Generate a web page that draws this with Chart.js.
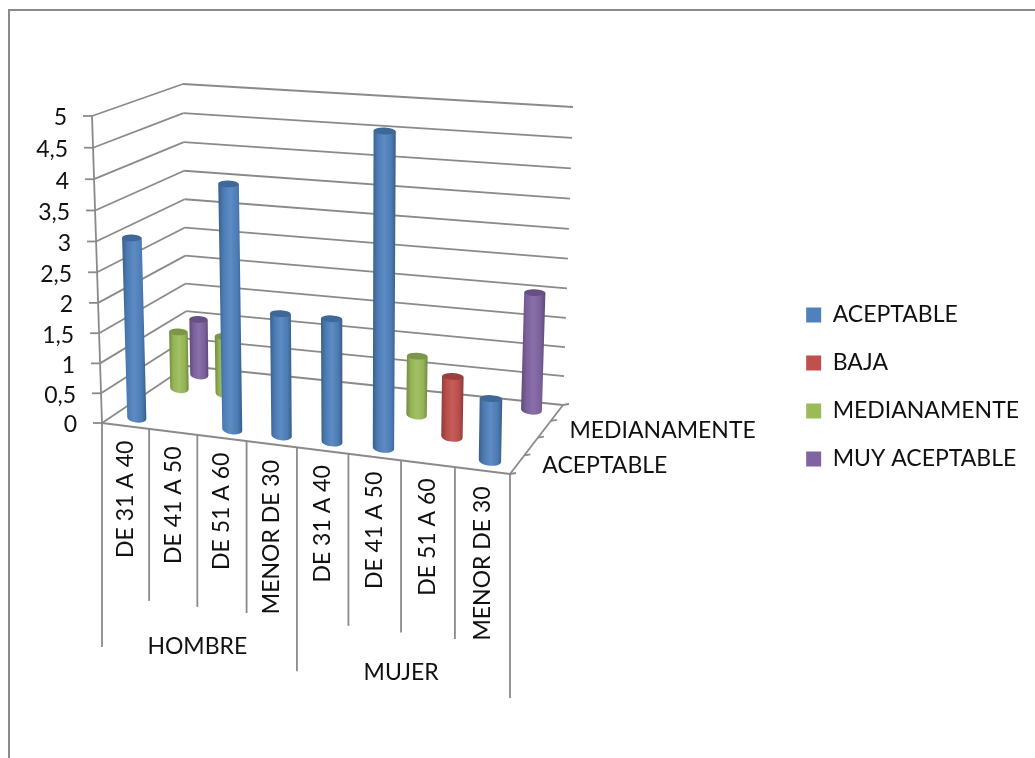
<!DOCTYPE html>
<html>
<head>
<meta charset="utf-8">
<title>Cilindros 3D</title>
<style>
  html, body { margin: 0; padding: 0; background: #fff; overflow: hidden; }
  canvas { display: block; }
</style>
<script src="https://cdn.jsdelivr.net/npm/chart.js@4/dist/chart.umd.js"></script>
</head>
<body>
<canvas id="chart" width="1035" height="758"></canvas>
<script>
const categories = ['DE 31 A 40', 'DE 41 A 50', 'DE 51 A 60', 'MENOR DE 30', 'DE 31 A 40', 'DE 41 A 50', 'DE 51 A 60', 'MENOR DE 30'];
const groups = ['HOMBRE', 'MUJER'];
const groupSize = 4;

const seriesNames = ['ACEPTABLE', 'BAJA', 'MEDIANAMENTE', 'MUY ACEPTABLE'];
const aceptable = [3, null, 4, 2, 2, 5, null, 1];
const baja = [null, null, null, null, null, null, 1, null];
const medianamente = [1, 1, null, null, null, 1, null, null];
const muyAceptable = [1, null, null, null, null, null, null, 2];
const seriesColors = ['#4f81bd', '#c0504d', '#9bbb59', '#8064a2'];

const FONT = 'Lato, sans-serif';
const FONT_SIZE = 23;
const LINE = '#8a8a8a';

// corners of the 3D box on screen: floor and the plane at the axis maximum
const floorCorners = [[102, 423], [510, 474], [563, 405], [187, 366]];
const topCorners = [[92, 116], [516, 146], [573, 107], [183, 84]];
const HEIGHT_BEND = 0.037; // the upper gridlines sit a little closer together at the bottom
const WIDTH_BEND = 0.035; // evens out the category spacing along the front edge

function makeHomography(q) {
  const [[x0, y0], [x1, y1], [x2, y2], [x3, y3]] = q;
  const dx1 = x1 - x2, dx2 = x3 - x2, sx = x0 - x1 + x2 - x3;
  const dy1 = y1 - y2, dy2 = y3 - y2, sy = y0 - y1 + y2 - y3;
  const den = dx1 * dy2 - dx2 * dy1;
  const g = (sx * dy2 - dx2 * sy) / den;
  const h = (dx1 * sy - sx * dy1) / den;
  const a = x1 - x0 + g * x1, b = x3 - x0 + h * x3;
  const d = y1 - y0 + g * y1, e = y3 - y0 + h * y3;
  return (u, v) => {
    const w = g * u + h * v + 1;
    return [(a * u + b * v + x0) / w, (d * u + e * v + y0) / w];
  };
}

const floorPlane = makeHomography(floorCorners);
const topPlane = makeHomography(topCorners);

// u along the categories, v into the depth, t is the fraction of the value axis
function project(u, v, t) {
  const k = t / (1 + HEIGHT_BEND * (1 - t));
  const s = u + WIDTH_BEND * u * (1 - u);
  const a = floorPlane(s, v);
  const b = topPlane(s, v);
  return [a[0] + (b[0] - a[0]) * k, a[1] + (b[1] - a[1]) * k];
}

function shade(hex, f) {
  const n = parseInt(hex.slice(1), 16);
  const c = [n >> 16, (n >> 8) & 255, n & 255].map(p => {
    const o = f <= 1 ? p * f : p + (255 - p) * (f - 1);
    return Math.round(o);
  });
  return `rgb(${c[0]},${c[1]},${c[2]})`;
}

function drawCylinder(ctx, u, v, t, halfU, color) {
  const bottom = project(u, v, 0);
  const top = project(u, v, t);
  const bl = project(u - halfU, v, 0), br = project(u + halfU, v, 0);
  const tl = project(u - halfU, v, t), tr = project(u + halfU, v, t);
  const rxB = Math.hypot(br[0] - bl[0], br[1] - bl[1]) / 2;
  const rxT = Math.hypot(tr[0] - tl[0], tr[1] - tl[1]) / 2;
  const rotB = Math.atan2(br[1] - bl[1], br[0] - bl[0]);
  const rotT = Math.atan2(tr[1] - tl[1], tr[0] - tl[0]) * 0.5;
  const ryB = 4.5, ryT = 3.4;

  const grad = ctx.createLinearGradient(Math.min(bl[0], tl[0]), 0, Math.max(br[0], tr[0]), 0);
  grad.addColorStop(0, shade(color, 0.74));
  grad.addColorStop(0.22, shade(color, 0.96));
  grad.addColorStop(0.5, shade(color, 1.08));
  grad.addColorStop(0.8, shade(color, 0.96));
  grad.addColorStop(1, shade(color, 0.72));

  ctx.beginPath();
  ctx.moveTo(top[0] - rxT * Math.cos(rotT), top[1] - rxT * Math.sin(rotT));
  ctx.lineTo(bottom[0] - rxB * Math.cos(rotB), bottom[1] - rxB * Math.sin(rotB));
  ctx.ellipse(bottom[0], bottom[1], rxB, ryB, rotB, Math.PI, 0, true);
  ctx.lineTo(top[0] + rxT * Math.cos(rotT), top[1] + rxT * Math.sin(rotT));
  ctx.closePath();
  ctx.fillStyle = grad;
  ctx.fill();

  ctx.beginPath();
  ctx.ellipse(top[0], top[1], rxT, ryT, rotT, 0, Math.PI * 2);
  ctx.fillStyle = shade(color, 0.8);
  ctx.fill();
}

// bar controller that paints its elements as cylinders standing in the box
class CylinderController extends Chart.BarController {
  draw() {
    const ctx = this.chart.ctx;
    const meta = this.getMeta();
    const x = meta.iScale, y = meta.vScale;
    const v = (this.index + 0.5) / this.chart.data.datasets.length;
    meta.data.forEach((el, i) => {
      if (!Number.isFinite(this.getParsed(i).y)) return;
      const u = (el.x - x.left) / x.width;
      const t = (y.bottom - el.y) / y.height;
      const halfU = el.width / x.width / 2;
      drawCylinder(ctx, u, v, t, halfU, this.getDataset().backgroundColor);
    });
  }
}
CylinderController.id = 'cylinder';
CylinderController.defaults = Chart.BarController.defaults;
Chart.register(CylinderController);

function line(ctx, a, b) {
  ctx.beginPath();
  ctx.moveTo(a[0], a[1]);
  ctx.lineTo(b[0], b[1]);
  ctx.stroke();
}

const boxPlugin = {
  id: 'box3d',
  beforeDatasetsDraw(chart) {
    const ctx = chart.ctx;
    const y = chart.scales.y;
    ctx.save();

    // outer frame, only the top and left sides are there
    ctx.fillStyle = LINE;
    ctx.fillRect(8, 9, 1027, 2);
    ctx.fillRect(8, 9, 2, 749);

    ctx.strokeStyle = LINE;
    ctx.lineWidth = 1.8;

    // walls
    y.ticks.forEach(tick => {
      const t = (y.bottom - y.getPixelForValue(tick.value)) / y.height;
      const front = project(0, 0, t);
      const corner = project(0, 1, t);
      const end = project(1, 1, t);
      line(ctx, [front[0] - 9, front[1]], front);
      line(ctx, front, corner);
      line(ctx, corner, end);
    });
    line(ctx, project(0, 0, 0), project(0, 0, 1));

    // front edge and depth edge of the floor
    line(ctx, project(0, 0, 0), project(1, 0, 0));
    line(ctx, project(1, 0, 0), project(1, 1, 0));
    const rows = seriesNames.length;
    for (let i = 0; i <= rows; i++) {
      const p = project(1, i / rows, 0);
      line(ctx, p, [p[0] + 6, p[1] - 1]);
    }
    ctx.restore();
  },
  afterDatasetsDraw(chart) {
    const ctx = chart.ctx;
    const x = chart.scales.x, y = chart.scales.y;
    const uOf = px => (px - x.left) / x.width;
    ctx.save();
    ctx.font = `${FONT_SIZE}px ${FONT}`;
    ctx.fillStyle = '#111';

    // value labels follow the slanted axis
    ctx.textAlign = 'right';
    ctx.textBaseline = 'middle';
    y.ticks.forEach(tick => {
      const t = (y.bottom - y.getPixelForValue(tick.value)) / y.height;
      const p = project(0, 0, t);
      ctx.fillText(tick.label, p[0] - 25, p[1] + 2);
    });

    // category separators and rotated labels hanging below the front edge
    ctx.strokeStyle = LINE;
    ctx.lineWidth = 1.8;
    const step = x.getPixelForValue(1) - x.getPixelForValue(0);
    categories.forEach((label, i) => {
      const px = x.getPixelForValue(i);
      const edge = project(uOf(px - step / 2), 0, 0);
      const long = i % groupSize === 0;
      line(ctx, edge, [edge[0], edge[1] + (long ? 224 : 172)]);

      const mid = project(uOf(px), 0, 0);
      const w = ctx.measureText(label).width;
      ctx.save();
      ctx.translate(mid[0], mid[1] + (w > 135 ? 170 : 132));
      ctx.rotate(-Math.PI / 2);
      ctx.textAlign = 'left';
      ctx.textBaseline = 'middle';
      ctx.fillText(label, 0, 0);
      ctx.restore();
    });
    const last = project(1, 0, 0);
    line(ctx, last, [last[0], last[1] + 224]);

    // group labels
    ctx.textAlign = 'center';
    ctx.textBaseline = 'middle';
    groups.forEach((label, g) => {
      const first = x.getPixelForValue(g * groupSize) - step / 2;
      const p = project(uOf(first + step * groupSize / 2), 0, 0);
      ctx.fillText(label, p[0], p[1] + 212);
    });

    // every other series is named along the depth edge
    ctx.textAlign = 'left';
    seriesNames.forEach((label, i) => {
      if (i % 2) return;
      const p = project(1, (i + 0.5) / seriesNames.length, 0);
      ctx.fillText(label, p[0] + 25, p[1] + 1);
    });
    ctx.restore();
  }
};

new Chart(document.getElementById('chart'), {
  type: 'cylinder',
  data: {
    labels: categories,
    datasets: [
      { label: seriesNames[0], data: aceptable, backgroundColor: seriesColors[0] },
      { label: seriesNames[1], data: baja, backgroundColor: seriesColors[1] },
      { label: seriesNames[2], data: medianamente, backgroundColor: seriesColors[2] },
      { label: seriesNames[3], data: muyAceptable, backgroundColor: seriesColors[3] }
    ]
  },
  options: {
    responsive: false,
    animation: false,
    layout: { padding: { top: 16, right: 6, left: 10, bottom: 0 } },
    datasets: { cylinder: { grouped: false, barPercentage: 0.41, categoryPercentage: 1 } },
    scales: {
      x: {
        type: 'category',
        offset: true,
        ticks: { display: false },
        grid: { display: false },
        border: { display: false }
      },
      y: {
        type: 'linear',
        min: 0,
        max: 5,
        ticks: {
          display: false,
          stepSize: 0.5,
          callback: value => String(value).replace('.', ',')
        },
        grid: { display: false },
        border: { display: false }
      }
    },
    plugins: {
      tooltip: { enabled: false },
      legend: {
        position: 'right',
        labels: {
          color: '#111',
          font: { family: FONT, size: FONT_SIZE },
          boxWidth: 15,
          boxHeight: 15,
          padding: 25
        }
      }
    }
  },
  plugins: [boxPlugin]
});
</script>
</body>
</html>
